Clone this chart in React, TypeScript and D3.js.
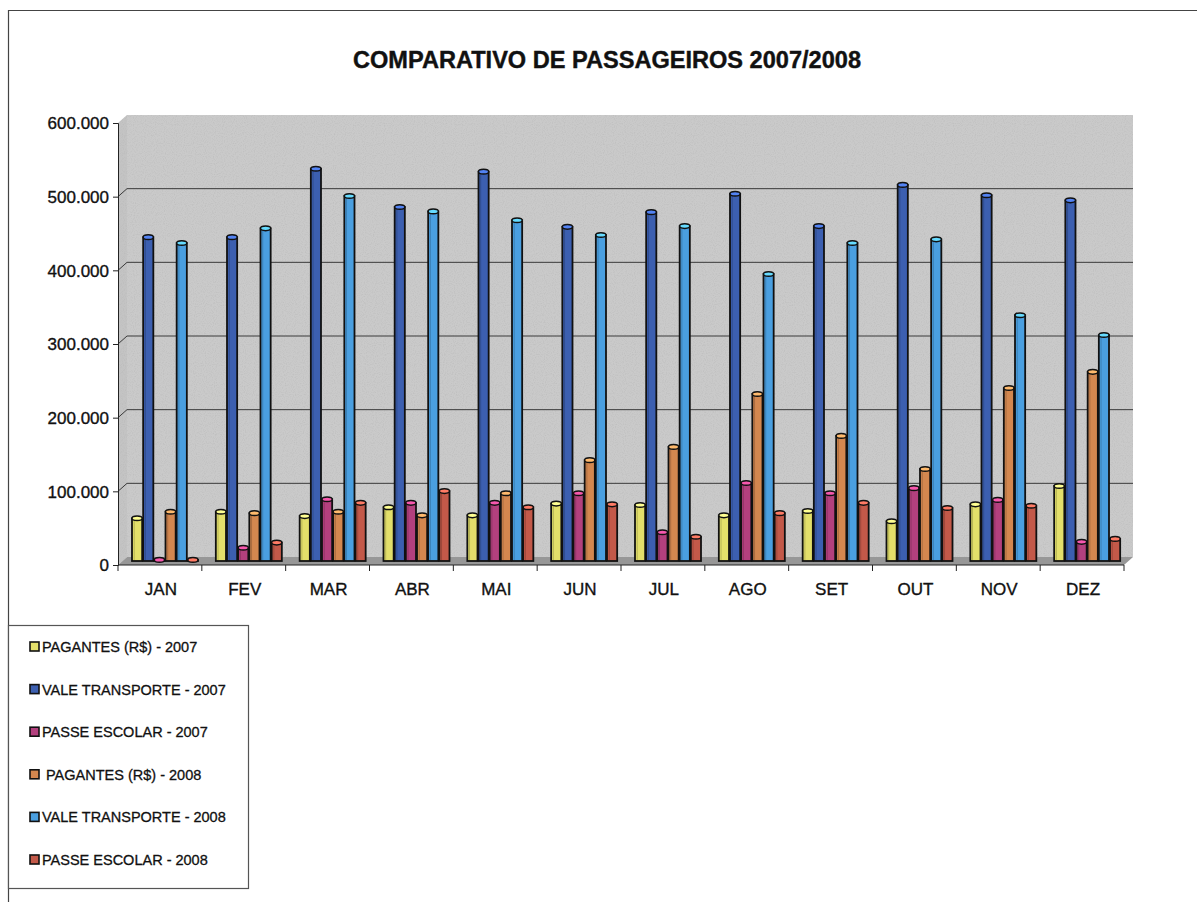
import React, { useEffect, useRef } from 'react';
import * as d3 from 'd3';

// months and series
const months = ['JAN', 'FEV', 'MAR', 'ABR', 'MAI', 'JUN', 'JUL', 'AGO', 'SET', 'OUT', 'NOV', 'DEZ'];
const pagantes2007 = [58000, 67000, 61000, 73000, 62000, 78000, 76000, 62000, 68000, 54000, 77000, 102000];
const vale2007 = [440000, 440000, 533000, 481000, 529000, 454000, 474000, 499000, 455000, 511000, 497000, 490000];
const passe2007 = [1500, 18000, 84000, 79000, 79000, 92000, 39000, 106000, 92000, 99000, 83000, 26000];
const pagantes2008 = [67000, 65000, 67000, 62000, 92000, 137000, 155000, 227000, 170000, 125000, 235000, 257000];
const vale2008 = [432000, 452000, 496000, 475000, 463000, 443000, 455000, 390000, 432000, 437000, 334000, 307000];
const passe2008 = [1500, 25000, 79000, 95000, 73000, 77000, 33000, 65000, 79000, 72000, 75000, 30000];
const seriesNames = [
  'PAGANTES (R$) - 2007',
  'VALE TRANSPORTE - 2007',
  'PASSE ESCOLAR - 2007',
  ' PAGANTES (R$) - 2008',
  'VALE TRANSPORTE - 2008',
  'PASSE ESCOLAR - 2008',
];
const yTicks = [0, 100000, 200000, 300000, 400000, 500000, 600000];

const colors = ['#e3df6a', '#3c5fb0', '#b3407e', '#d3874f', '#4a9fe0', '#c35949'];
const FONT = '"Liberation Sans Narrow", "Liberation Sans", Arial, sans-serif';

function drawChart(svgEl: SVGSVGElement) {
  const svg = d3.select(svgEl);
  svg.selectAll('*').remove();
  const series = [pagantes2007, vale2007, passe2007, pagantes2008, vale2008, passe2008];

  // 3d depth offset of the back wall
  const dx = 9, dy = -8;
  const x0 = 118, x1 = 1124;
  const yFront = d3.scaleLinear().domain([0, 600000]).range([565, 123]);
  const yBar = d3.scaleLinear().domain([0, 600000]).range([561, 119.4]);
  const x = d3.scaleBand().domain(months).range([x0, x1]);
  const xs = d3.scaleBand<number>().domain(d3.range(6)).range([14, 80]).paddingInner(0.09);

  const defs = svg.append('defs');
  const f = defs.append('filter').attr('id', 'grain').attr('x', 0).attr('y', 0).attr('width', '100%').attr('height', '100%');
  f.append('feTurbulence').attr('type', 'fractalNoise').attr('baseFrequency', 0.9).attr('numOctaves', 1).attr('result', 'n');
  f.append('feColorMatrix').attr('type', 'matrix')
    .attr('values', '0 0 0 0 0.45  0 0 0 0 0.45  0 0 0 0 0.45  0 0 0 -2.2 1.25').attr('in', 'n').attr('result', 'c');
  f.append('feComposite').attr('in', 'c').attr('in2', 'SourceGraphic').attr('operator', 'in');

  // outer frame
  svg.append('path').attr('d', 'M8.5,902 V10.5 H1197').attr('fill', 'none').attr('stroke', '#444').attr('stroke-width', 1.2);

  // title
  svg.append('text')
    .attr('x', 607).attr('y', 68).attr('text-anchor', 'middle')
    .attr('font-family', FONT).attr('font-weight', 'bold').attr('font-size', 23)
    .attr('textLength', 508).attr('lengthAdjust', 'spacingAndGlyphs')
    .attr('fill', '#111').attr('stroke', '#111').attr('stroke-width', 0.4)
    .text('COMPARATIVO DE PASSAGEIROS 2007/2008');

  // walls
  const top = yFront(600000), bot = yFront(0);
  const wall = `M${x0 + dx},${top + dy} H${x1 + dx} V${bot + dy} H${x0 + dx} Z`;
  const side = `M${x0},${top} L${x0 + dx},${top + dy} V${bot + dy} L${x0},${bot} Z`;
  const floor = `M${x0},${bot} L${x0 + dx},${bot + dy} H${x1 + dx} L${x1},${bot} Z`;
  svg.append('path').attr('d', wall).attr('fill', '#cacaca');
  svg.append('path').attr('d', side).attr('fill', '#c4c4c4');
  svg.append('path').attr('d', floor).attr('fill', '#979797');
  svg.append('path').attr('d', wall + side).attr('fill', '#888').attr('filter', 'url(#grain)').attr('opacity', 0.5);

  // gridlines on back wall + side
  svg.append('g').selectAll('path')
    .data(yTicks.filter(d => d > 0 && d < 600000))
    .join('path')
    .attr('d', d => `M${x0},${yFront(d)} L${x0 + dx},${yFront(d) + dy} H${x1 + dx}`)
    .attr('fill', 'none').attr('stroke', '#3a3a3a').attr('stroke-width', 1);

  // bars as cylinders
  const gBars = svg.append('g');
  months.forEach((m, i) => {
    series.forEach((s, k) => {
      const bx = (x(m) as number) + (xs(k) as number);
      const w = xs.bandwidth();
      const yt = yBar(s[i]);
      const yb = yBar(0);
      const c = d3.color(colors[k]) as d3.RGBColor;
      gBars.append('rect')
        .attr('x', bx).attr('y', yt).attr('width', w).attr('height', Math.max(0, yb - yt))
        .attr('fill', colors[k]).attr('stroke', '#111').attr('stroke-width', 1.8);
      gBars.append('line')
        .attr('x1', bx + 2.2).attr('x2', bx + 2.2).attr('y1', yt + 2).attr('y2', yb - 1)
        .attr('stroke', c.darker(0.6).formatHex()).attr('stroke-width', 1);
      gBars.append('ellipse')
        .attr('cx', bx + w / 2).attr('cy', yt).attr('rx', w / 2).attr('ry', 2.3)
        .attr('fill', c.brighter(0.9).formatHex()).attr('stroke', '#111').attr('stroke-width', 1.5);
    });
  });

  // y axis
  const gy = svg.append('g').attr('transform', `translate(${x0},0)`)
    .call(d3.axisLeft(yFront).tickValues(yTicks).tickSize(5).tickPadding(4)
      .tickFormat(d => (+d === 0 ? '0' : d3.format(',')(+d).replace(/,/g, '.'))));
  gy.select('.domain').attr('stroke', '#222');
  gy.selectAll('line').attr('stroke', '#222');
  gy.selectAll('text').attr('font-family', FONT).attr('font-size', 17).attr('fill', '#111')
    .attr('stroke', '#111').attr('stroke-width', 0.35).attr('dy', '0.35em');

  // x axis
  const gx = svg.append('g').attr('transform', `translate(0,${bot})`);
  gx.append('line').attr('x1', x0).attr('x2', x1).attr('stroke', '#222');
  gx.selectAll('line.t').data(d3.range(13)).join('line').attr('class', 't')
    .attr('x1', d => x0 + d * x.bandwidth()).attr('x2', d => x0 + d * x.bandwidth())
    .attr('y1', 0).attr('y2', 6).attr('stroke', '#222');
  gx.selectAll('text').data(months).join('text')
    .attr('x', d => (x(d) as number) + x.bandwidth() / 2 + 1).attr('y', 30)
    .attr('text-anchor', 'middle').attr('font-family', FONT).attr('font-size', 17).attr('fill', '#111')
    .attr('stroke', '#111').attr('stroke-width', 0.35)
    .text(d => d);

  // legend
  const lg = svg.append('g');
  lg.append('rect').attr('x', 8.5).attr('y', 625.5).attr('width', 240).attr('height', 263)
    .attr('fill', '#fff').attr('stroke', '#555').attr('stroke-width', 1.2);
  const item = lg.selectAll('g.item').data(seriesNames).join('g').attr('class', 'item')
    .attr('transform', (_, i) => `translate(30,${647 + i * 42.6})`);
  item.append('rect').attr('x', 0).attr('y', -5).attr('width', 9).attr('height', 9)
    .attr('fill', (_, i) => colors[i]).attr('stroke', '#111').attr('stroke-width', 1.6);
  item.append('text').attr('x', 12).attr('y', 0).attr('dy', '0.35em')
    .attr('font-family', FONT).attr('font-size', 14.5).attr('fill', '#111')
    .attr('stroke', '#111').attr('stroke-width', 0.3)
    .attr('xml:space', 'preserve')
    .text(d => d);
}

export default function App() {
  const ref = useRef<SVGSVGElement>(null);
  useEffect(() => {
    if (ref.current) drawChart(ref.current);
  }, []);
  return (
    <svg ref={ref} width={1197} height={902}
      style={{ position: 'absolute', left: 0, top: 0, background: '#fff' }} />
  );
}
